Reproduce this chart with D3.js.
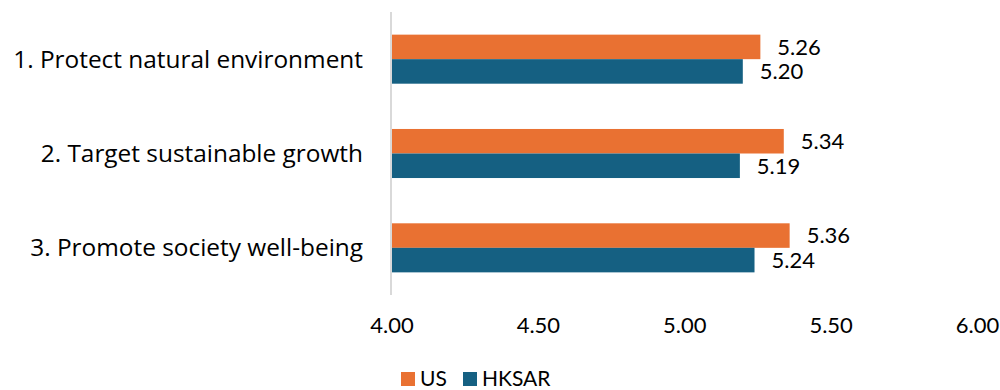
<!DOCTYPE html>
<html>
<head>
<meta charset="utf-8">
<script src="https://cdn.jsdelivr.net/npm/d3@7"></script>
<style>
  html, body { margin: 0; padding: 0; background: #fff; }
  svg { display: block; }
  text { font-family: Lato, "Open Sans", sans-serif; fill: #000; }
</style>
</head>
<body>
<svg id="chart" width="1000" height="390"></svg>
<script>
const categories = ["1. Protect natural environment", "2. Target sustainable growth", "3. Promote society well-being"];
const seriesNames = ["US", "HKSAR"];
const usValues = [5.26, 5.34, 5.36];
const hksarValues = [5.20, 5.19, 5.24];
const xTicks = [4.00, 4.50, 5.00, 5.50, 6.00];
const colors = ["#E97132", "#156082"];

const seriesValues = [usValues, hksarValues];
const svg = d3.select("#chart");

const x = d3.scaleLinear().domain([4, 6]).range([391.5, 977]);
const y = d3.scaleBand().domain(categories).range([12, 295]).paddingInner(0.48).paddingOuter(0.24);
const ySub = d3.scaleBand().domain(seriesNames).range([0, y.bandwidth()]);

// category labels
svg.append("g").selectAll("text").data(categories).join("text")
  .attr("x", 363)
  .attr("y", d => y(d) + y.bandwidth() / 2 + 8.4)
  .attr("text-anchor", "end")
  .style("font-family", "'Open Sans', sans-serif")
  .style("font-size", "24.4px")
  .text(d => d);

// bars
const groups = svg.append("g").selectAll("g").data(categories).join("g")
  .attr("transform", d => `translate(0,${y(d)})`);

seriesNames.forEach((s, si) => {
  groups.append("rect")
    .attr("x", x(4))
    .attr("y", ySub(s))
    .attr("width", (d, i) => x(seriesValues[si][i]) - x(4))
    .attr("height", ySub.bandwidth())
    .attr("fill", colors[si]);
  groups.append("text")
    .attr("x", (d, i) => x(seriesValues[si][i]) + 17)
    .attr("y", ySub(s) + ySub.bandwidth() / 2 + 7.9)
    .style("font-size", "22px")
    .text((d, i) => d3.format(".2f")(seriesValues[si][i]));
});

// vertical axis line
svg.append("line")
  .attr("x1", 391).attr("x2", 391)
  .attr("y1", 12).attr("y2", 295)
  .attr("stroke", "#d9d9d9").attr("stroke-width", 2);

// x axis tick labels
const xAxis = d3.axisBottom(x).tickValues(xTicks).tickFormat(d3.format(".2f")).tickSize(0).tickPadding(0);
const gx = svg.append("g").attr("transform", "translate(0,317)").call(xAxis);
gx.select(".domain").remove();
gx.selectAll("text")
  .attr("dy", null)
  .attr("y", 16)
  .style("font-family", "Lato, 'Open Sans', sans-serif")
  .style("font-size", "22px")
  .attr("fill", "#000");

// legend
const legendX = [401, 463];
const leg = svg.append("g");
seriesNames.forEach((s, i) => {
  leg.append("rect").attr("x", legendX[i]).attr("y", 372).attr("width", 14).attr("height", 14).attr("fill", colors[i]);
  leg.append("text").attr("x", legendX[i] + 19).attr("y", 385.5).style("font-size", "21px").text(s);
});
</script>
</body>
</html>
